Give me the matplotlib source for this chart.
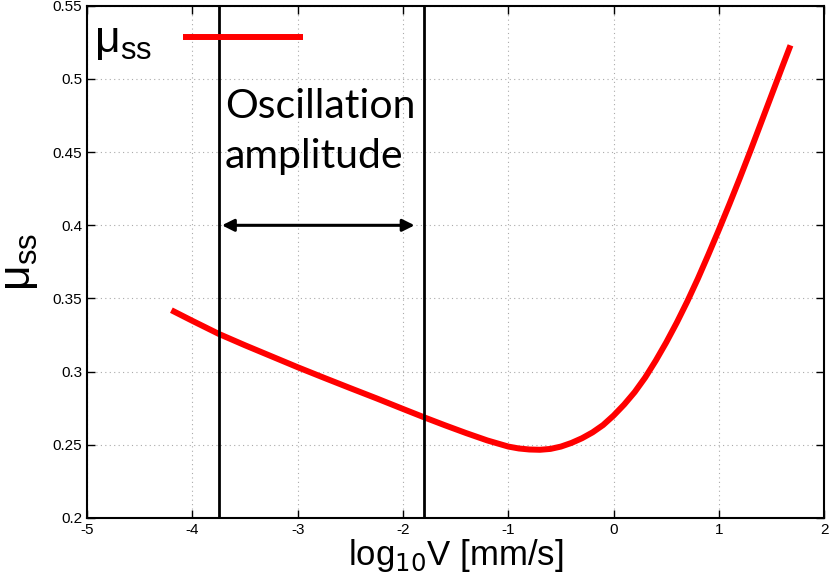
import matplotlib
matplotlib.use("Agg")
import matplotlib.pyplot as plt
import numpy as np

# steady-state friction curve
log_v = [-4.2, -4.0, -3.75, -3.5, -3.25, -3.0, -2.75, -2.5, -2.25, -2.0, -1.8,
         -1.6, -1.4, -1.2, -1.0, -0.9, -0.8, -0.7, -0.6, -0.5, -0.4, -0.3, -0.2,
         -0.1, 0.0, 0.1, 0.2, 0.3, 0.4, 0.5, 0.6, 0.7, 0.8, 0.9, 1.0, 1.1, 1.2,
         1.3, 1.4, 1.5, 1.6, 1.68]
mu_ss = [0.342, 0.3347, 0.3258, 0.3180, 0.3105, 0.3030, 0.2958, 0.2887, 0.2817, 0.2745, 0.2688,
         0.2633, 0.2580, 0.2530, 0.2488, 0.2475, 0.2468, 0.2466, 0.2472, 0.2488, 0.2513, 0.2545, 0.2585,
         0.2635, 0.2700, 0.2775, 0.2860, 0.2960, 0.3075, 0.3200, 0.3335, 0.3480, 0.3635, 0.3800, 0.3970, 0.4145, 0.4325,
         0.4510, 0.4700, 0.4890, 0.5080, 0.5230]

amp_lo = -3.75
amp_hi = -1.8
arrow_y = 0.4

plt.rcParams['font.family'] = ['Liberation Sans', 'DejaVu Sans']
plt.rcParams['axes.unicode_minus'] = False

fig = plt.figure(figsize=(8.3, 5.82), dpi=100)
ax = fig.add_axes([0.105, 0.110, 0.888, 0.880])

ax.plot(log_v, mu_ss, color='red', lw=4.3, label=r'$\mathregular{\mu_{ss}}$',
        solid_capstyle='butt', solid_joinstyle='round')

ax.axvline(amp_lo, color='black', lw=2)
ax.axvline(amp_hi, color='black', lw=2)
ax.annotate('', xy=(amp_lo + 0.03, arrow_y), xytext=(amp_hi - 0.09, arrow_y),
            arrowprops=dict(arrowstyle='<|-|>', color='black', lw=2.2,
                            mutation_scale=18, shrinkA=0, shrinkB=0))
ax.text(amp_lo + 0.06, 0.494, 'Oscillation\namplitude', fontsize=29.5,
        family=['Lato', 'DejaVu Sans'], va='top', ha='left', linespacing=1.45)

ax.set_xlim(-5, 2)
ax.set_ylim(0.2, 0.55)
ax.set_xticks(np.arange(-5, 3, 1))
ax.set_yticks([0.2, 0.25, 0.3, 0.35, 0.4, 0.45, 0.5, 0.55])
ax.set_yticklabels(['0.2', '0.25', '0.3', '0.35', '0.4', '0.45', '0.5', '0.55'])
ax.tick_params(direction='in', top=True, right=True, labelsize=11, length=6, width=1)
ax.grid(True, color='#aaaaaa', linestyle=(0, (1, 3)), lw=0.8)
for s in ax.spines.values():
    s.set_linewidth(1.5)

ax.set_xlabel(r'log$_{10}$V [mm/s]', fontsize=25, labelpad=0)
ax.set_ylabel(r'$\mathregular{\mu_{ss}}$', fontsize=32, labelpad=9)

ax.legend(loc='upper left', bbox_to_anchor=(0.0, 0.985), markerfirst=False,
          frameon=False, fontsize=32, handlelength=2.7, borderaxespad=0.0,
          borderpad=0.15, handletextpad=0.7)

fig.savefig('out.png', dpi=100)
